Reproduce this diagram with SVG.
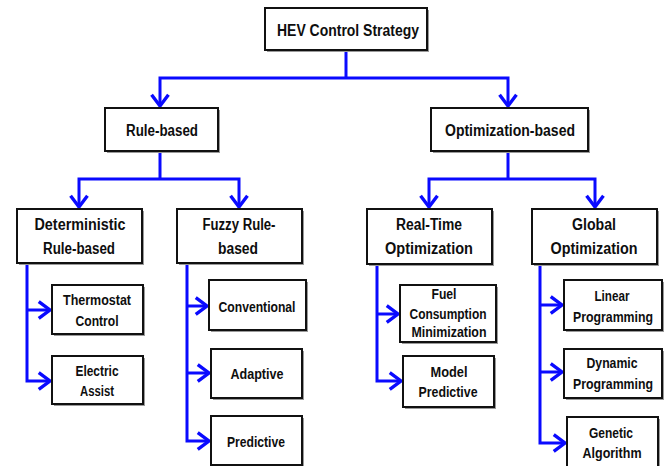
<svg xmlns="http://www.w3.org/2000/svg" width="665" height="466" viewBox="0 0 665 466">
<style>
.bg{fill:#fff}
.sh{fill:#9a9a9a}
.bx{fill:#fff;stroke:#111;stroke-width:2}
text{font-family:"Liberation Sans",Arial,sans-serif;font-weight:bold;fill:#0e0e0e;text-anchor:middle}
.t1{font-size:17px}
.t2{font-size:16px}
.t3{font-size:16px}
.t4{font-size:14px}
.c{fill:none;stroke:#0a0aff;stroke-width:3;stroke-linejoin:miter}
</style>
<defs>
<marker id="ah" markerUnits="userSpaceOnUse" markerWidth="16" markerHeight="18" viewBox="-1 -1 14 16" refX="11" refY="7" orient="auto" overflow="visible">
<path d="M1,-0.5 L11,7 L1,14.5" fill="none" stroke="#0a0aff" stroke-width="3"/>
</marker>
</defs>
<rect class="bg" width="665" height="466"/>
<g id="connectors">
<path class="c" d="M346,50 V78"/>
<path class="c" d="M346,78 H160 V106" marker-end="url(#ah)"/>
<path class="c" d="M346,78 H508 V106" marker-end="url(#ah)"/>
<path class="c" d="M160,151 V179"/>
<path class="c" d="M160,179 H79 V207" marker-end="url(#ah)"/>
<path class="c" d="M160,179 H239 V207" marker-end="url(#ah)"/>
<path class="c" d="M508,151 V179"/>
<path class="c" d="M508,179 H429 V207" marker-end="url(#ah)"/>
<path class="c" d="M508,179 H595 V207" marker-end="url(#ah)"/>
<path class="c" d="M27,263 V381 H50" marker-end="url(#ah)"/>
<path class="c" d="M27,310 H50" marker-end="url(#ah)"/>
<path class="c" d="M187,263 V441 H209" marker-end="url(#ah)"/>
<path class="c" d="M187,306 H207" marker-end="url(#ah)"/>
<path class="c" d="M187,373 H209" marker-end="url(#ah)"/>
<path class="c" d="M377,264 V381 H401" marker-end="url(#ah)"/>
<path class="c" d="M377,314 H398" marker-end="url(#ah)"/>
<path class="c" d="M540,264 V443 H565" marker-end="url(#ah)"/>
<path class="c" d="M540,305 H562" marker-end="url(#ah)"/>
<path class="c" d="M540,372 H562" marker-end="url(#ah)"/>
</g>
<g id="hev">
<rect class="sh" x="267" y="10" width="162" height="42"/>
<rect class="bx" x="265" y="8" width="162" height="42"/>
<text class="t1" x="348" y="36" textLength="142" lengthAdjust="spacingAndGlyphs">HEV Control Strategy</text>
</g>
<g id="rule">
<rect class="sh" x="107" y="110" width="113" height="43"/>
<rect class="bx" x="105" y="108" width="113" height="43"/>
<text class="t2" x="162" y="136" textLength="72" lengthAdjust="spacingAndGlyphs">Rule-based</text>
</g>
<g id="opt">
<rect class="sh" x="433" y="110" width="157" height="43"/>
<rect class="bx" x="431" y="108" width="157" height="43"/>
<text class="t2" x="510" y="136" textLength="130" lengthAdjust="spacingAndGlyphs">Optimization-based</text>
</g>
<g id="det">
<rect class="sh" x="19" y="211" width="125" height="54"/>
<rect class="bx" x="17" y="209" width="125" height="54"/>
<text class="t3" x="80" y="230" textLength="91" lengthAdjust="spacingAndGlyphs">Deterministic</text>
<text class="t3" x="79" y="254" textLength="72" lengthAdjust="spacingAndGlyphs">Rule-based</text>
</g>
<g id="fuzzy">
<rect class="sh" x="179" y="211" width="125" height="54"/>
<rect class="bx" x="177" y="209" width="125" height="54"/>
<text class="t3" x="239" y="230" textLength="73" lengthAdjust="spacingAndGlyphs">Fuzzy Rule-</text>
<text class="t3" x="238" y="254" textLength="40" lengthAdjust="spacingAndGlyphs">based</text>
</g>
<g id="realtime">
<rect class="sh" x="369" y="211" width="125" height="55"/>
<rect class="bx" x="367" y="209" width="125" height="55"/>
<text class="t3" x="429" y="230" textLength="66" lengthAdjust="spacingAndGlyphs">Real-Time</text>
<text class="t3" x="429" y="254" textLength="88" lengthAdjust="spacingAndGlyphs">Optimization</text>
</g>
<g id="global">
<rect class="sh" x="534" y="211" width="125" height="55"/>
<rect class="bx" x="532" y="209" width="125" height="55"/>
<text class="t3" x="594" y="230" textLength="44" lengthAdjust="spacingAndGlyphs">Global</text>
<text class="t3" x="594" y="254" textLength="87" lengthAdjust="spacingAndGlyphs">Optimization</text>
</g>
<g id="thermostat">
<rect class="sh" x="54" y="287" width="91" height="49"/>
<rect class="bx" x="52" y="285" width="91" height="49"/>
<text class="t4" x="97" y="305" textLength="68" lengthAdjust="spacingAndGlyphs">Thermostat</text>
<text class="t4" x="97" y="326" textLength="43" lengthAdjust="spacingAndGlyphs">Control</text>
</g>
<g id="electric">
<rect class="sh" x="54" y="358" width="91" height="48"/>
<rect class="bx" x="52" y="356" width="91" height="48"/>
<text class="t4" x="97" y="376" textLength="43" lengthAdjust="spacingAndGlyphs">Electric</text>
<text class="t4" x="97" y="396" textLength="34" lengthAdjust="spacingAndGlyphs">Assist</text>
</g>
<g id="conventional">
<rect class="sh" x="211" y="282" width="97" height="50"/>
<rect class="bx" x="209" y="280" width="97" height="50"/>
<text class="t4" x="257" y="312" textLength="77" lengthAdjust="spacingAndGlyphs">Conventional</text>
</g>
<g id="adaptive">
<rect class="sh" x="213" y="351" width="91" height="49"/>
<rect class="bx" x="211" y="349" width="91" height="49"/>
<text class="t4" x="257" y="379" textLength="53" lengthAdjust="spacingAndGlyphs">Adaptive</text>
</g>
<g id="predictive">
<rect class="sh" x="213" y="418" width="91" height="49"/>
<rect class="bx" x="211" y="416" width="91" height="49"/>
<text class="t4" x="256" y="447" textLength="58" lengthAdjust="spacingAndGlyphs">Predictive</text>
</g>
<g id="fuel">
<rect class="sh" x="402" y="287" width="96" height="57"/>
<rect class="bx" x="400" y="285" width="96" height="57"/>
<text class="t4" x="444" y="299" textLength="25" lengthAdjust="spacingAndGlyphs">Fuel</text>
<text class="t4" x="448" y="319" textLength="77" lengthAdjust="spacingAndGlyphs">Consumption</text>
<text class="t4" x="449" y="337" textLength="75" lengthAdjust="spacingAndGlyphs">Minimization</text>
</g>
<g id="model">
<rect class="sh" x="405" y="358" width="91" height="51"/>
<rect class="bx" x="403" y="356" width="91" height="51"/>
<text class="t4" x="449" y="377" textLength="37" lengthAdjust="spacingAndGlyphs">Model</text>
<text class="t4" x="448" y="397" textLength="59" lengthAdjust="spacingAndGlyphs">Predictive</text>
</g>
<g id="linear">
<rect class="sh" x="566" y="282" width="98" height="50"/>
<rect class="bx" x="564" y="280" width="98" height="50"/>
<text class="t4" x="612" y="301" textLength="35" lengthAdjust="spacingAndGlyphs">Linear</text>
<text class="t4" x="613" y="322" textLength="80" lengthAdjust="spacingAndGlyphs">Programming</text>
</g>
<g id="dynamic">
<rect class="sh" x="566" y="351" width="98" height="49"/>
<rect class="bx" x="564" y="349" width="98" height="49"/>
<text class="t4" x="612" y="368" textLength="51" lengthAdjust="spacingAndGlyphs">Dynamic</text>
<text class="t4" x="613" y="389" textLength="80" lengthAdjust="spacingAndGlyphs">Programming</text>
</g>
<g id="genetic">
<rect class="sh" x="569" y="419" width="91" height="52"/>
<rect class="bx" x="567" y="417" width="91" height="52"/>
<text class="t4" x="611" y="438" textLength="44" lengthAdjust="spacingAndGlyphs">Genetic</text>
<text class="t4" x="612" y="458" textLength="59" lengthAdjust="spacingAndGlyphs">Algorithm</text>
</g>
</svg>
